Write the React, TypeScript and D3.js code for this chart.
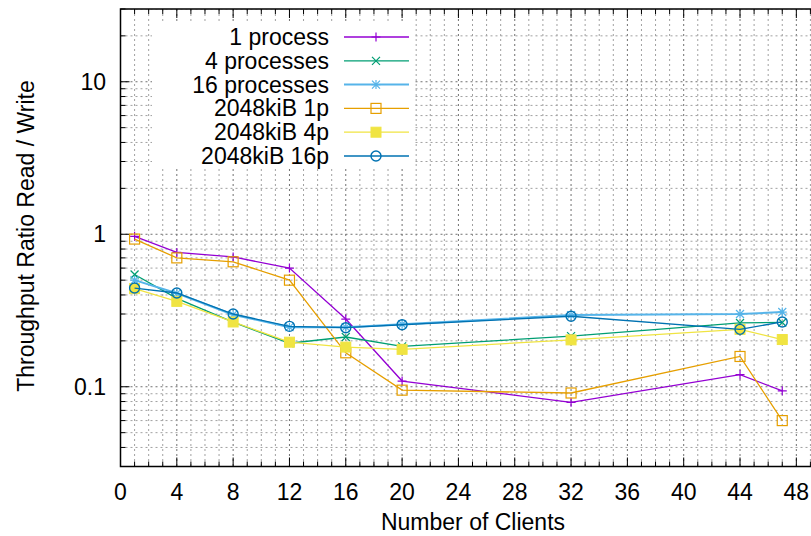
import React from "react";
import * as d3 from "d3";

const clients = [1, 4, 8, 12, 16, 20, 32, 44, 47];
const oneProcess = [0.97, 0.76, 0.71, 0.6, 0.278, 0.109, 0.079, 0.12, 0.094];
const fourProcesses = [0.545, 0.38, 0.265, 0.193, 0.212, 0.184, 0.215, 0.262, 0.264];
const sixteenProcesses = [0.5, 0.41, 0.297, 0.246, 0.246, 0.257, 0.295, 0.3, 0.309];
const kib1p = [0.93, 0.7, 0.66, 0.5, 0.167, 0.095, 0.091, 0.158, 0.06];
const kib4p = [0.44, 0.363, 0.266, 0.196, 0.182, 0.176, 0.203, 0.238, 0.204];
const kib16p = [0.444, 0.412, 0.3, 0.249, 0.244, 0.255, 0.29, 0.238, 0.266];

const seriesNames = ["1 process", "4 processes", "16 processes", "2048kiB 1p", "2048kiB 4p", "2048kiB 16p"];
const seriesColors = ["#9400d3", "#009e73", "#56b4e9", "#e69f00", "#f0e442", "#0072b2"];
const seriesMarkers = ["plus", "cross", "star", "square", "filled", "circle"];
const seriesValues = [oneProcess, fourProcesses, sixteenProcesses, kib1p, kib4p, kib16p];

const xTicks = [0, 4, 8, 12, 16, 20, 24, 28, 32, 36, 40, 44, 48];
const yTicks = [0.1, 1, 10];

const W = 811;
const H = 536;
const font = "'Liberation Sans', Arial, sans-serif";

const Marker = ({ kind, x, y, color }: { kind: string; x: number; y: number; color: string }) => {
  const s = 4.5;
  if (kind === "plus")
    return <path d={`M${x - s},${y}H${x + s}M${x},${y - s}V${y + s}`} stroke={color} strokeWidth={1.2} />;
  if (kind === "cross")
    return <path d={`M${x - 4},${y - 4}L${x + 4},${y + 4}M${x - 4},${y + 4}L${x + 4},${y - 4}`} stroke={color} strokeWidth={1.2} />;
  if (kind === "star")
    return (
      <path
        d={`M${x - s},${y}H${x + s}M${x},${y - s}V${y + s}M${x - 4},${y - 4}L${x + 4},${y + 4}M${x - 4},${y + 4}L${x + 4},${y - 4}`}
        stroke={color}
        strokeWidth={1.2}
      />
    );
  if (kind === "square")
    return <rect x={x - 5} y={y - 5} width={10} height={10} fill="none" stroke={color} strokeWidth={1.2} />;
  if (kind === "filled")
    return <rect x={x - 5} y={y - 5} width={10} height={10} fill={color} stroke={color} strokeWidth={1} />;
  return <circle cx={x} cy={y} r={5} fill="none" stroke={color} strokeWidth={1.4} />;
};

export default function App() {
  const left = 120.5;
  const top = 9;
  const bottom = 466.5;
  const x = d3.scaleLinear().domain([0, 50]).range([left, left + 50 * 14.08]);
  const y = d3.scaleLog().domain([0.03, 30]).range([bottom, top]);
  const right = x(50);

  const minorX = d3.range(0, 51).filter((v) => v % 4 !== 0);
  const minorY: number[] = [];
  [0.01, 0.1, 1, 10].forEach((d) => {
    for (let k = 2; k <= 9; k++) {
      const v = d * k;
      if (v > 0.0299 && v < 30.01) minorY.push(v);
    }
  });

  const line = d3
    .line<number>()
    .x((_, i) => x(clients[i]))
    .y((d) => y(d));

  return (
    <svg width={W} height={H} style={{ position: "absolute", left: 0, top: 0, background: "#fff" }}>
      <defs>
        <clipPath id="plot">
          <rect x={left} y={top} width={right - left} height={bottom - top} />
        </clipPath>
      </defs>
      <rect width={W} height={H} fill="#fff" />
      {/* grid */}
      <g clipPath="url(#plot)" strokeWidth={1}>
        {minorX.map((v) => (
          <line key={"gx" + v} x1={x(v)} x2={x(v)} y1={top} y2={bottom} stroke="#a0a0a0" strokeDasharray="2,3" />
        ))}
        {xTicks.map((v) => (
          <line key={"gX" + v} x1={x(v)} x2={x(v)} y1={top} y2={bottom} stroke="#707070" strokeDasharray="2,3" />
        ))}
        {minorY.map((v) => (
          <line key={"gy" + v} x1={left} x2={right} y1={y(v)} y2={y(v)} stroke="#a0a0a0" strokeDasharray="2,3" />
        ))}
        {yTicks.map((v) => (
          <line key={"gY" + v} x1={left} x2={right} y1={y(v)} y2={y(v)} stroke="#707070" strokeDasharray="2,3" />
        ))}
      </g>
      {/* legend background */}
      <rect x={152} y={22} width={262} height={146} fill="#fff" />
      {/* ticks */}
      <g stroke="#000" strokeWidth={1}>
        {xTicks.map((v) => (
          <path key={"tx" + v} d={`M${x(v)},${bottom}v-9M${x(v)},${top}v9`} />
        ))}
        {minorX.map((v) => (
          <path key={"mx" + v} d={`M${x(v)},${bottom}v-5M${x(v)},${top}v5`} />
        ))}
        {yTicks.map((v) => (
          <path key={"ty" + v} d={`M${left},${y(v)}h9`} />
        ))}
        {minorY.map((v) => (
          <path key={"my" + v} d={`M${left},${y(v)}h5`} />
        ))}
      </g>
      {/* series */}
      <g clipPath="url(#plot)">
        {seriesValues.map((vals, si) => (
          <g key={"s" + si}>
            <path
              d={line(vals) || ""}
              fill="none"
              stroke={seriesColors[si]}
              strokeWidth={si === 2 ? 2 : 1.3}
            />
            {vals.map((v, i) => (
              <Marker key={i} kind={seriesMarkers[si]} x={x(clients[i])} y={y(v)} color={seriesColors[si]} />
            ))}
          </g>
        ))}
      </g>
      {/* border */}
      <path d={`M${right},${top}H${left}V${bottom}H${right}`} fill="none" stroke="#000" strokeWidth={1.5} />
      {/* tick labels */}
      <g fontFamily={font} fontSize={23} fill="#000">
        {xTicks.map((v) => (
          <text key={"lx" + v} x={x(v)} y={500} textAnchor="middle">
            {v}
          </text>
        ))}
        {yTicks.map((v) => (
          <text key={"ly" + v} x={106} y={y(v) + 8} textAnchor="end">
            {v}
          </text>
        ))}
        <text x={473} y={530} textAnchor="middle">
          Number of Clients
        </text>
        <text transform={`translate(34,236) rotate(-90)`} textAnchor="middle">
          Throughput Ratio Read / Write
        </text>
      </g>
      {/* legend */}
      <g fontFamily={font} fontSize={23}>
        {seriesNames.map((name, i) => {
          const ly = 37 + i * 23.8;
          return (
            <g key={"lg" + i}>
              <text x={329} y={ly + 8} textAnchor="end">
                {name}
              </text>
              <line x1={344} x2={409} y1={ly} y2={ly} stroke={seriesColors[i]} strokeWidth={i === 2 ? 2 : 1.3} />
              <Marker kind={seriesMarkers[i]} x={376} y={ly} color={seriesColors[i]} />
            </g>
          );
        })}
      </g>
    </svg>
  );
}
